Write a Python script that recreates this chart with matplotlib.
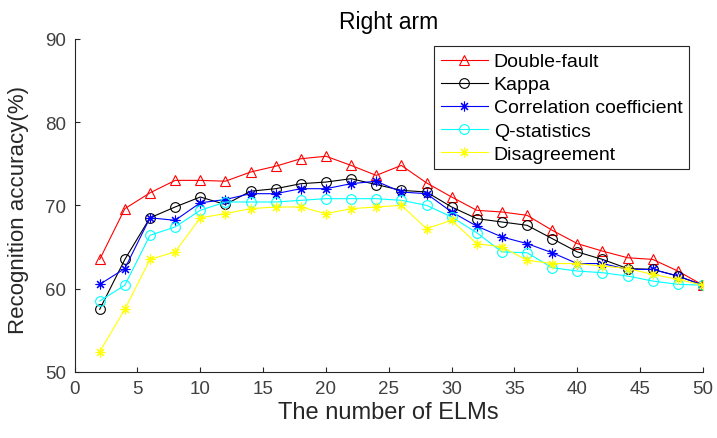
import numpy as np
import matplotlib
matplotlib.use("Agg")
import matplotlib.pyplot as plt

plt.rcParams["font.family"] = ["Liberation Sans", "DejaVu Sans"]

n_elms = np.arange(2, 51, 2)

double_fault = [63.5, 69.6, 71.5, 73.0, 73.0, 72.9, 74.0, 74.7, 75.6, 75.9, 74.8, 73.6, 74.8,
                72.7, 71.0, 69.4, 69.2, 68.8, 67.0, 65.4, 64.5, 63.7, 63.5, 62.1, 60.4]
kappa = [57.5, 63.5, 68.5, 69.8, 71.0, 70.1, 71.7, 72.0, 72.6, 72.8, 73.2, 72.5, 71.8,
         71.6, 69.8, 68.4, 68.0, 67.6, 66.0, 64.4, 63.5, 62.4, 62.3, 61.5, 60.4]
correlation = [60.5, 62.4, 68.5, 68.2, 70.3, 70.7, 71.4, 71.4, 72.0, 72.0, 72.6, 72.9, 71.6,
               71.4, 69.2, 67.5, 66.2, 65.4, 64.3, 63.0, 63.0, 62.3, 62.3, 61.5, 60.4]
q_statistics = [58.5, 60.4, 66.4, 67.4, 69.4, 70.4, 70.4, 70.4, 70.6, 70.8, 70.8, 70.8, 70.6,
                70.0, 68.6, 66.7, 64.4, 64.3, 62.5, 62.1, 61.9, 61.5, 60.9, 60.5, 60.4]
disagreement = [52.4, 57.5, 63.5, 64.4, 68.5, 69.0, 69.6, 69.8, 69.8, 69.0, 69.6, 69.8, 70.0,
                67.2, 68.2, 65.4, 65.0, 63.4, 63.0, 63.0, 62.7, 62.4, 61.7, 61.1, 60.4]

# MATLAB-like asterisk marker (8 spokes)
asterisk = (8, 2, 0)

fig = plt.figure(figsize=(7.17, 4.39), dpi=100)
ax = fig.add_axes([0.104, 0.151, 0.8765, 0.758])

style = dict(linewidth=0.8, markersize=7, markerfacecolor="none", markeredgewidth=0.8)
ax.plot(n_elms, double_fault, "-", marker="^", color="red", label="Double-fault", **style)
ax.plot(n_elms, kappa, "-", marker="o", color="black", label="Kappa", **style)
ax.plot(n_elms, correlation, "-", marker=asterisk, color="blue",
        label="Correlation coefficient", **style)
ax.plot(n_elms, q_statistics, "-", marker="o", color="cyan", label="Q-statistics", **style)
ax.plot(n_elms, disagreement, "-", marker=asterisk, color="yellow",
        label="Disagreement", **style)

ax.set_xlim(0, 50)
ax.set_ylim(50, 90)
ax.set_xticks(np.arange(0, 51, 5))
ax.set_yticks(np.arange(50, 91, 10))
ax.tick_params(direction="in", labelsize=13.5, color="#262626", labelcolor="#404040", pad=6)
for side in ("top", "right"):
    ax.spines[side].set_visible(False)
for side in ("left", "bottom"):
    ax.spines[side].set_color("#262626")

ax.set_xlabel("The number of ELMs", fontsize=17, color="#262626", labelpad=3)
ax.set_ylabel("Recognition accuracy(%)", fontsize=16, color="#262626")
ax.yaxis.set_label_coords(-0.072, 0.49)
ax.set_title("Right arm", fontsize=16.5, pad=8)

leg = ax.legend(loc="upper right", bbox_to_anchor=(0.978, 0.979), fontsize=14,
                fancybox=False, edgecolor="#262626", framealpha=1,
                borderaxespad=0, handlelength=2.4, labelspacing=0.28,
                borderpad=0.35, handletextpad=0.3)
leg.get_frame().set_linewidth(0.8)

fig.savefig("out.png", dpi=100)
